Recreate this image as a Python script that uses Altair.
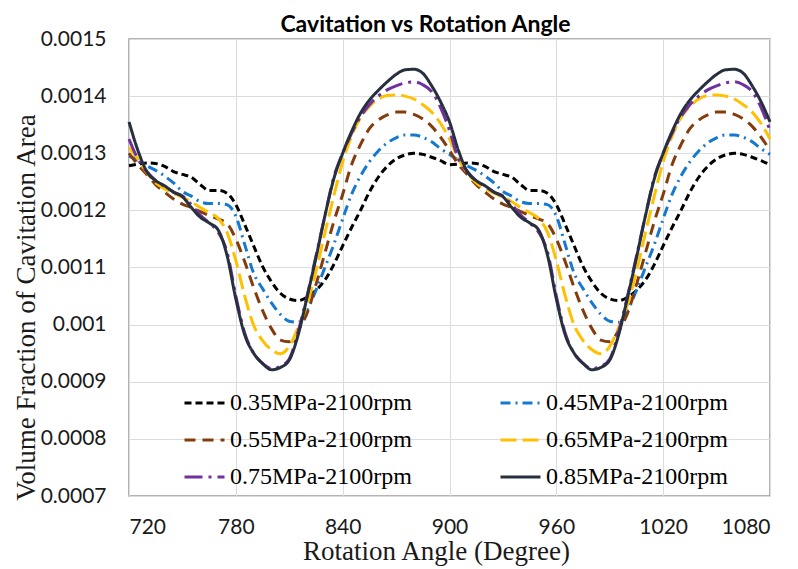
import altair as alt
import pandas as pd

ANGLES = list(range(720, 1085, 5))

SERIES = ["0.35MPa-2100rpm", "0.45MPa-2100rpm", "0.55MPa-2100rpm",
          "0.65MPa-2100rpm", "0.75MPa-2100rpm", "0.85MPa-2100rpm"]

S035 = [0.001278, 0.001281, 0.001283, 0.001282, 0.001277, 0.001268, 0.001263, 0.001258, 0.001245, 0.001235,
        0.001235, 0.001230, 0.001210, 0.001175, 0.001138, 0.001102, 0.001075, 0.001055, 0.001045, 0.001042,
        0.001048, 0.001060, 0.001078, 0.001105, 0.001138, 0.001170, 0.001200, 0.001232, 0.001258, 0.001277,
        0.001290, 0.001297, 0.001300, 0.001298, 0.001293, 0.001287, 0.001280,
        0.001281, 0.001283, 0.001282, 0.001277, 0.001268, 0.001263, 0.001258, 0.001245, 0.001235,
        0.001235, 0.001230, 0.001210, 0.001175, 0.001138, 0.001102, 0.001075, 0.001055, 0.001045, 0.001042,
        0.001048, 0.001060, 0.001078, 0.001105, 0.001138, 0.001170, 0.001200, 0.001232, 0.001258, 0.001277,
        0.001290, 0.001297, 0.001300, 0.001298, 0.001293, 0.001287, 0.001280]

S045 = [0.001295, 0.001288, 0.001278, 0.001270, 0.001260, 0.001248, 0.001233, 0.001225, 0.001215, 0.001212,
        0.001212, 0.001210, 0.001190, 0.001140, 0.001090, 0.001063, 0.001038, 0.001018, 0.001006, 0.001004,
        0.001025, 0.001060, 0.001100, 0.001140, 0.001185, 0.001228, 0.001260, 0.001285, 0.001304, 0.001318,
        0.001327, 0.001332, 0.001332, 0.001328, 0.001320, 0.001308, 0.001298,
        0.001288, 0.001278, 0.001270, 0.001260, 0.001248, 0.001233, 0.001225, 0.001215, 0.001212,
        0.001212, 0.001210, 0.001190, 0.001140, 0.001090, 0.001063, 0.001038, 0.001018, 0.001006, 0.001004,
        0.001025, 0.001060, 0.001100, 0.001140, 0.001185, 0.001228, 0.001260, 0.001285, 0.001304, 0.001318,
        0.001327, 0.001332, 0.001332, 0.001328, 0.001320, 0.001308, 0.001298]

S055 = [0.001300, 0.001280, 0.001263, 0.001245, 0.001232, 0.001220, 0.001211, 0.001205, 0.001198, 0.001191,
        0.001185, 0.001177, 0.001150, 0.001110, 0.001065, 0.001025, 0.000993, 0.000973, 0.000970, 0.000990,
        0.001020, 0.001070, 0.001125, 0.001180, 0.001228, 0.001280, 0.001315, 0.001343, 0.001358, 0.001367,
        0.001372, 0.001372, 0.001368, 0.001360, 0.001347, 0.001328, 0.001305,
        0.001280, 0.001263, 0.001245, 0.001232, 0.001220, 0.001211, 0.001205, 0.001198, 0.001191,
        0.001185, 0.001177, 0.001150, 0.001110, 0.001065, 0.001025, 0.000993, 0.000973, 0.000970, 0.000990,
        0.001020, 0.001070, 0.001125, 0.001180, 0.001228, 0.001280, 0.001315, 0.001343, 0.001358, 0.001367,
        0.001372, 0.001372, 0.001368, 0.001360, 0.001347, 0.001328, 0.001305]

S065 = [0.001310, 0.001290, 0.001266, 0.001248, 0.001238, 0.001230, 0.001223, 0.001215, 0.001205, 0.001196,
        0.001186, 0.001162, 0.001112, 0.001050, 0.000999, 0.000972, 0.000956, 0.000949, 0.000962, 0.000995,
        0.001035, 0.001093, 0.001160, 0.001225, 0.001285, 0.001330, 0.001362, 0.001382, 0.001395, 0.001401,
        0.001402, 0.001400, 0.001395, 0.001385, 0.001372, 0.001352, 0.001325,
        0.001290, 0.001266, 0.001248, 0.001238, 0.001230, 0.001223, 0.001215, 0.001205, 0.001196,
        0.001186, 0.001162, 0.001112, 0.001050, 0.000999, 0.000972, 0.000956, 0.000949, 0.000962, 0.000995,
        0.001035, 0.001093, 0.001160, 0.001225, 0.001285, 0.001330, 0.001362, 0.001382, 0.001395, 0.001401,
        0.001402, 0.001400, 0.001395, 0.001385, 0.001372, 0.001352, 0.001325]

S075 = [0.001325, 0.001290, 0.001268, 0.001252, 0.001242, 0.001232, 0.001225, 0.001210, 0.001192, 0.001178,
        0.001162, 0.001128, 0.001050, 0.000985, 0.000950, 0.000932, 0.000923, 0.000927, 0.000940, 0.000988,
        0.001050, 0.001120, 0.001190, 0.001258, 0.001300, 0.001335, 0.001364, 0.001385, 0.001400, 0.001411,
        0.001418, 0.001423, 0.001425, 0.001420, 0.001408, 0.001380, 0.001340,
        0.001290, 0.001268, 0.001252, 0.001242, 0.001232, 0.001225, 0.001210, 0.001192, 0.001178,
        0.001162, 0.001128, 0.001050, 0.000985, 0.000950, 0.000932, 0.000923, 0.000927, 0.000940, 0.000988,
        0.001050, 0.001120, 0.001190, 0.001258, 0.001300, 0.001335, 0.001364, 0.001385, 0.001400, 0.001411,
        0.001418, 0.001423, 0.001425, 0.001420, 0.001408, 0.001380, 0.001340]

S085 = [0.001355, 0.001305, 0.001268, 0.001252, 0.001243, 0.001232, 0.001224, 0.001205, 0.001188, 0.001178,
        0.001166, 0.001122, 0.001045, 0.000982, 0.000950, 0.000932, 0.000921, 0.000925, 0.000938, 0.000982,
        0.001048, 0.001117, 0.001190, 0.001255, 0.001300, 0.001338, 0.001370, 0.001393, 0.001410, 0.001425,
        0.001438, 0.001446, 0.001447, 0.001440, 0.001418, 0.001390, 0.001355,
        0.001305, 0.001268, 0.001252, 0.001243, 0.001232, 0.001224, 0.001205, 0.001188, 0.001178,
        0.001166, 0.001122, 0.001045, 0.000982, 0.000950, 0.000932, 0.000921, 0.000925, 0.000938, 0.000982,
        0.001048, 0.001117, 0.001190, 0.001255, 0.001300, 0.001338, 0.001370, 0.001393, 0.001410, 0.001425,
        0.001438, 0.001446, 0.001447, 0.001440, 0.001418, 0.001390, 0.001355]

X_TICKS = [720, 780, 840, 900, 960, 1020, 1080]
Y_TICKS = [0.0007, 0.0008, 0.0009, 0.001, 0.0011, 0.0012, 0.0013, 0.0014, 0.0015]

COLORS = ["#000000", "#1479cf", "#843c0c", "#ffc000", "#7030a0", "#27303f"]
DASHES = [[7, 4], [10, 5, 2, 5], [11, 7], [16, 6], [18, 6, 3, 6], [1, 0]]
WIDTHS = [3, 3, 3, 3, 3, 2]

# legend fills column by column: order the domain so rows read 0.35|0.45, 0.55|0.65, 0.75|0.85
LEGEND_ORDER = [0, 2, 4, 1, 3, 5]
DOMAIN = [SERIES[i] for i in LEGEND_ORDER]
COLOR_RANGE = [COLORS[i] for i in LEGEND_ORDER]
DASH_RANGE = [DASHES[i] for i in LEGEND_ORDER]
WIDTH_RANGE = [WIDTHS[i] for i in LEGEND_ORDER]

rows = []
for name, vals in zip(SERIES, [S035, S045, S055, S065, S075, S085]):
    assert len(vals) == len(ANGLES)
    for a, v in zip(ANGLES, vals):
        rows.append({"angle": a, "value": v, "series": name})
df = pd.DataFrame(rows)

legend = alt.Legend(
    orient="none", legendX=54, legendY=353, columns=2, columnPadding=87, rowPadding=13,
    symbolType="stroke", symbolSize=1600, symbolStrokeWidth=3, clipHeight=22,
    labelFont="Liberation Serif", labelFontSize=24, labelColor="#000000", labelOffset=4,
    labelLimit=400, padding=0,
)

chart = alt.Chart(df).mark_line(interpolate="monotone").encode(
    x=alt.X("angle:Q",
            scale=alt.Scale(domain=[720, 1080], nice=False),
            axis=alt.Axis(values=X_TICKS, format="d", title="Rotation Angle (Degree)", grid=True,
                          gridColor="#dcdcdc", domain=False, ticks=False, labelPadding=20,
                          labelFont="Lato", labelFontSize=21, labelColor="#1a1a1a",
                          titleFont="Liberation Serif", titleFontSize=27, titleFontWeight="normal",
                          titleColor="#1a1a1a", titleX=307, titleY=63, titleAlign="center",
                          titleBaseline="alphabetic")),
    y=alt.Y("value:Q",
            scale=alt.Scale(domain=[0.0007, 0.0015], nice=False, zero=False),
            axis=alt.Axis(values=Y_TICKS, format=".4~f", title="Volume Fraction of Cavitation Area",
                          grid=True, gridColor="#dcdcdc", domain=False, ticks=False, labelPadding=23,
                          labelFont="Lato", labelFontSize=21, labelColor="#1a1a1a",
                          titleFont="Liberation Serif", titleFontSize=27, titleFontWeight="normal",
                          titleColor="#1a1a1a", titleX=-95, titleY=268, titleAngle=270,
                          titleAlign="center", titleBaseline="alphabetic")),
    color=alt.Color("series:N", title=None, scale=alt.Scale(domain=DOMAIN, range=COLOR_RANGE), legend=legend),
    strokeDash=alt.StrokeDash("series:N", title=None, scale=alt.Scale(domain=DOMAIN, range=DASH_RANGE), legend=legend),
    strokeWidth=alt.StrokeWidth("series:N", scale=alt.Scale(domain=DOMAIN, range=WIDTH_RANGE), legend=None),
).properties(
    width=641, height=457,
    title=alt.TitleParams("Cavitation vs Rotation Angle", font="Lato", fontSize=23, fontWeight="bold",
                          anchor="middle", frame="group", dx=-24, dy=17, offset=8, color="#000000"),
    autosize="none",
    padding={"left": 121, "top": 31, "right": 20, "bottom": 72},
    background="white",
).configure_view(stroke="#9a9a9a", strokeWidth=1.5)

chart.save("out.html", embed_options={"renderer": "svg", "actions": False})
